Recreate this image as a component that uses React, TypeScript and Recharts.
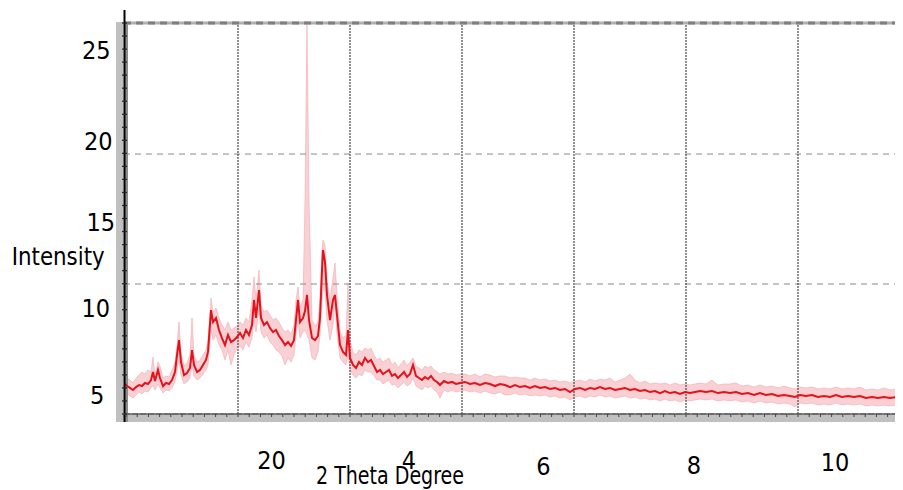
import React from 'react';
import { ComposedChart, Line, Area, XAxis, YAxis, ReferenceLine, ReferenceArea, Label } from 'recharts';

// scan step index (detector steps) and intensities
const steps = [-2,1,4,7,10,13,16,19,22,25,27,29,32,34,37,40,43,46,49,51,53,55,58,61,64,66,68,71,74,77,80,82,85,87,90,93,96,99,102,105,108,111,114,117,120,123,126,128,130,133,135,138,141,144,147,150,153,156,159,162,165,168,170,172,174,177,179,181,183,186,189,192,194,196,197,199,201,204,207,209,211,214,217,220,222,224,227,230,233,236,239,242,245,248,251,254,257,260,263,266,269,272,275,278,281,284,287,290,293,296,299,302,305,308,311,314,318,322,326,330,334,339,344,349,354,359,364,369,374,379,384,389,394,399,404,409,414,419,424,429,434,439,444,449,454,459,464,469,474,479,484,489,494,499,504,509,514,519,524,529,534,539,544,549,554,559,564,569,574,580,586,592,598,604,610,616,622,628,634,640,646,652,658,664,669,674,680,686,692,698,704,710,716,722,728,734,740,746,752,758,764,770,777];
const midIntensity = [5.61,5.43,5.32,5.20,5.37,5.49,5.43,5.61,5.55,5.78,6.25,5.72,6.37,5.90,5.43,5.61,5.55,5.78,6.25,7.24,8.11,6.83,6.07,6.19,6.48,7.53,6.66,6.25,6.37,6.66,6.95,7.42,9.86,9.16,9.40,8.70,8.23,7.82,8.41,8.00,8.11,8.29,8.52,8.23,8.70,8.41,8.99,10.45,9.40,11.03,9.40,8.99,9.16,8.81,8.58,8.70,8.35,8.11,7.82,8.00,7.77,8.11,9.28,10.45,9.16,9.40,9.80,10.74,9.28,8.23,8.11,8.35,9.40,12.20,13.36,12.66,10.74,9.28,10.45,10.74,9.57,7.82,7.42,7.24,8.70,7.07,6.66,6.48,6.83,6.66,7.07,6.83,6.95,6.60,6.25,6.37,6.13,6.25,6.37,6.02,6.13,5.90,6.07,6.25,5.96,6.13,6.66,6.02,5.90,5.78,5.96,5.84,6.02,5.78,5.67,5.49,5.72,5.61,5.67,5.55,5.61,5.67,5.55,5.61,5.49,5.61,5.55,5.43,5.55,5.49,5.37,5.49,5.37,5.43,5.32,5.43,5.32,5.37,5.26,5.32,5.20,5.26,5.08,5.26,5.32,5.20,5.32,5.26,5.37,5.26,5.32,5.20,5.26,5.32,5.20,5.26,5.14,5.20,5.08,5.14,5.02,5.14,5.02,5.08,4.97,5.08,5.02,5.08,5.14,5.08,5.14,5.02,5.08,5.02,5.08,4.97,5.02,4.91,5.02,4.91,4.97,4.85,4.91,4.85,4.79,4.91,4.85,4.91,4.79,4.85,4.79,4.91,4.79,4.85,4.79,4.85,4.73,4.79,4.73,4.79,4.73,4.79,4.73];
const lowIntensity = [5.08,5.02,4.85,4.73,4.91,5.08,4.97,5.14,5.08,5.32,5.49,5.20,5.55,5.32,5.02,5.20,5.14,5.32,5.67,6.37,6.95,6.07,5.55,5.67,5.90,6.66,6.02,5.78,5.90,6.13,6.37,6.66,8.70,8.11,8.41,7.82,7.53,6.95,7.53,6.66,7.24,7.65,7.77,7.53,8.00,7.71,8.23,9.28,8.58,9.86,8.58,8.23,8.41,8.00,7.82,7.53,7.42,7.18,6.66,7.07,6.83,7.24,8.41,9.28,8.23,8.58,8.70,8.41,8.11,7.07,6.95,7.42,8.41,10.45,11.03,11.03,9.28,8.11,8.99,10.45,8.41,7.07,6.83,6.66,7.24,6.37,6.07,5.90,6.13,6.02,6.37,6.25,6.25,6.02,5.78,5.78,5.55,5.67,5.78,5.49,5.55,5.32,5.49,5.67,5.43,5.55,5.90,5.43,5.32,5.20,5.43,5.32,5.43,5.20,5.08,4.73,5.20,5.08,5.20,5.08,5.14,5.20,5.08,5.14,5.02,5.14,5.02,4.97,5.08,4.91,4.91,5.02,4.91,4.97,4.85,4.91,4.85,4.91,4.79,4.85,4.73,4.79,4.62,4.79,4.85,4.73,4.85,4.79,4.91,4.79,4.85,4.73,4.79,4.85,4.73,4.79,4.67,4.73,4.62,4.67,4.56,4.67,4.56,4.62,4.50,4.62,4.56,4.62,4.67,4.62,4.67,4.56,4.62,4.56,4.62,4.50,4.56,4.44,4.56,4.44,4.50,4.38,4.44,4.38,4.21,4.44,4.38,4.44,4.32,4.38,4.32,4.44,4.32,4.38,4.32,4.38,4.27,4.32,4.27,4.32,4.27,4.32,4.27];
const highIntensity = [6.07,5.90,5.78,5.61,5.90,6.07,6.25,6.13,6.37,6.25,7.12,6.07,6.83,6.60,5.90,6.02,5.96,6.37,6.83,7.82,9.16,7.42,6.60,6.77,7.24,9.40,7.24,6.83,6.95,7.24,7.53,8.11,10.56,9.75,9.98,9.40,8.99,8.70,9.16,8.70,8.81,8.93,9.16,8.99,9.40,9.16,10.45,11.79,10.45,12.20,10.16,9.75,9.86,9.57,9.28,9.40,9.16,8.81,8.58,8.70,8.46,8.99,10.45,11.21,9.98,10.45,16.28,26.60,16.28,9.28,8.93,9.16,10.45,13.36,13.95,13.65,11.61,10.45,11.73,12.60,10.74,8.70,8.23,8.41,11.44,8.11,7.42,7.24,7.53,7.42,7.65,7.53,7.65,7.24,6.95,7.07,6.83,6.95,7.07,6.66,6.83,6.48,6.72,6.95,6.60,6.83,7.07,6.60,6.48,6.37,6.60,6.48,6.60,6.37,6.25,6.13,6.25,6.13,6.19,6.07,6.13,6.13,6.02,6.13,5.96,6.13,6.07,5.96,6.02,6.02,5.90,5.96,5.90,5.90,5.78,5.90,5.78,5.84,5.72,5.78,5.67,5.72,5.61,5.72,5.78,5.67,5.84,5.72,5.84,5.78,5.90,5.67,5.78,5.90,6.13,5.78,5.61,5.72,5.55,5.61,5.55,5.61,5.49,5.61,5.49,5.55,5.49,5.55,5.61,5.55,5.78,5.49,5.55,5.55,5.61,5.43,5.49,5.37,5.49,5.37,5.43,5.32,5.43,5.32,5.26,5.37,5.32,5.37,5.26,5.32,5.26,5.37,5.26,5.32,5.26,5.37,5.20,5.26,5.20,5.32,5.20,5.26,5.20];

// axis tick labels (as printed in the original)
const xLabelSteps = [145.5, 283, 417.5, 568, 709];
const xLabelTexts = ['20', '4', '6', '8', '10'];
const yLabelValues = [25, 20, 15, 10, 5];
const yLabelTexts = ['25', '20', '15', '10', '5'];

// grid
const gridSteps = [112, 224, 336, 448, 560, 672];
const gridIntensities = [11.38, 18.96];
const topIntensity = 26.6;

const X_MIN = -2, X_MAX = 777;
const Y_MIN = 3.8, Y_MAX = 27.36;
const BAND_LOW = 3.33;

const xMinor = Array.from({ length: 70 }, (_, i) => +(i * 11.2).toFixed(2));
const yMinor = Array.from({ length: 31 }, (_, i) => +(Y_MIN + i * 0.76).toFixed(3));

const FONT = "'Liberation Sans Narrow', 'Arial Narrow', 'DejaVu Sans Condensed', 'Liberation Sans', sans-serif";

const rows = steps.map((s, i) => ({
  step: s,
  mid: midIntensity[i],
  band: [lowIntensity[i], highIntensity[i]],
}));

const xNudge = [55, 54.5, 60.5, 60, 56.7];
const yNudge = [
  { dx: -13.3, dy: 8.1 },
  { dx: -11.3, dy: 13.3 },
  { dx: -9, dy: 8.8 },
  { dx: -14, dy: 9.3 },
  { dx: -19.7, dy: 10.1 },
];

const XTick = (props: any) => {
  const { x, y, payload } = props;
  const idx = xLabelSteps.indexOf(payload.value);
  if (idx >= 0) {
    return (
      <text x={x} y={y + xNudge[idx]} textAnchor="middle" fontFamily={FONT} fontSize={25} fill="#000">
        {xLabelTexts[idx]}
      </text>
    );
  }
  return <line x1={x} x2={x} y1={y} y2={y + 3} stroke="#444" strokeWidth={1} />;
};

const YTick = (props: any) => {
  const { x, y, payload } = props;
  const idx = yLabelValues.indexOf(payload.value);
  if (idx >= 0) {
    return (
      <text x={x + yNudge[idx].dx} y={y + yNudge[idx].dy} textAnchor="end" fontFamily={FONT} fontSize={25} fill="#000">
        {yLabelTexts[idx]}
      </text>
    );
  }
  return <line x1={x - 2} x2={x + 3} y1={y} y2={y} stroke="#222" strokeWidth={1.2} />;
};

export default function App() {
  return (
    <div style={{ margin: '-8px 0 0 -8px', width: 903, height: 490, background: '#fff' }}>
      <ComposedChart width={903} height={490} data={rows} margin={{ top: 10, right: 0, bottom: 0, left: 0 }}>
        <XAxis
          type="number"
          dataKey="step"
          domain={[X_MIN, X_MAX]}
          allowDataOverflow
          ticks={[...xMinor, ...xLabelSteps]}
          interval={0}
          tick={XTick}
          tickLine={false}
          tickSize={0}
          tickMargin={0}
          height={76}
          axisLine={{ stroke: '#666', strokeWidth: 1.5 }}
        >
          <Label
            content={(p: any) => {
              const vb = p.viewBox;
              return (
                <text x={vb.x + 192} y={vb.y + 70} fontFamily={FONT} fontSize={25} textLength={148} lengthAdjust="spacingAndGlyphs" fill="#000">
                  2 Theta Degree
                </text>
              );
            }}
          />
        </XAxis>
        <YAxis
          type="number"
          domain={[Y_MIN, Y_MAX]}
          allowDataOverflow
          ticks={[...yMinor, ...yLabelValues]}
          interval={0}
          tick={YTick}
          tickLine={false}
          tickSize={0}
          tickMargin={0}
          width={124}
          axisLine={false}
        >
          <Label
            content={(p: any) => {
              const vb = p.viewBox;
              return (
                <text x={vb.x + 11.7} y={vb.y + 255} fontFamily={FONT} fontSize={25} textLength={93} lengthAdjust="spacingAndGlyphs" fill="#000">
                  Intensity
                </text>
              );
            }}
          />
        </YAxis>

        {gridIntensities.map((v) => (
          <ReferenceLine key={'h' + v} y={v} stroke="#8a8a8a" strokeWidth={1} strokeDasharray="6 5" />
        ))}
        {gridSteps.map((s) => (
          <ReferenceLine
            key={'v' + s}
            segment={[{ x: s, y: Y_MIN }, { x: s, y: topIntensity }]}
            stroke="#555"
            strokeWidth={1.3}
            strokeDasharray="2 1"
          />
        ))}

        <Area
          type="linear"
          dataKey="band"
          stroke="#f2a9b0"
          strokeWidth={0.6}
          fill="#f8c8cc"
          fillOpacity={0.85}
          isAnimationActive={false}
          dot={false}
          activeDot={false}
        />
        <Line
          type="linear"
          dataKey="mid"
          stroke="#e3121b"
          strokeWidth={2}
          dot={false}
          activeDot={false}
          isAnimationActive={false}
        />

        <ReferenceLine y={topIntensity} stroke="#b0b0b0" strokeWidth={3} />
        <ReferenceLine y={topIntensity} stroke="#7f7f7f" strokeWidth={3} strokeDasharray="7 5" />

        <ReferenceArea x1={-10} x2={X_MAX} y1={BAND_LOW} y2={Y_MIN} fill="#c0c0c0" fillOpacity={1} ifOverflow="visible" />
        <ReferenceArea x1={-10} x2={-2.5} y1={BAND_LOW} y2={26.66} fill="#c0c0c0" fillOpacity={1} ifOverflow="visible" />
        <ReferenceArea x1={-1} x2={2} y1={BAND_LOW} y2={26.66} fill="#8c8c8c" fillOpacity={1} ifOverflow="visible" />
        <ReferenceLine
          segment={[{ x: X_MIN, y: Y_MIN }, { x: X_MAX, y: Y_MIN }]}
          stroke="#666"
          strokeWidth={1.5}
          strokeDasharray="6 2"
          ifOverflow="visible"
        />
        <ReferenceLine
          segment={[{ x: -1.5, y: BAND_LOW }, { x: -1.5, y: Y_MAX }]}
          stroke="#000"
          strokeWidth={2}
          ifOverflow="visible"
        />
      </ComposedChart>
    </div>
  );
}
